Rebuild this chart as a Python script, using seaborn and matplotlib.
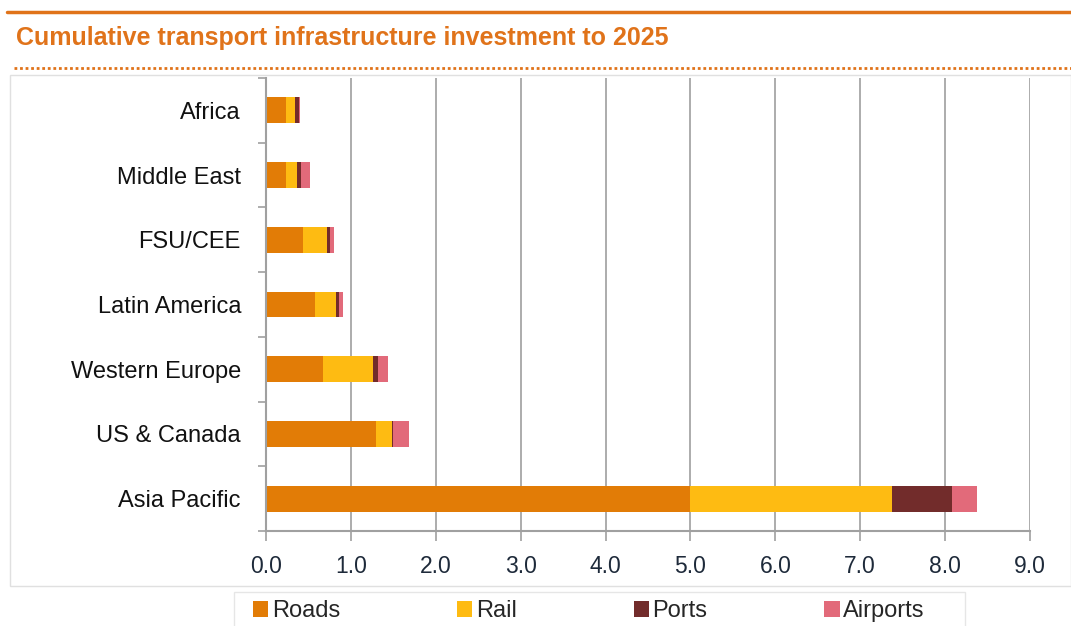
import numpy as np
import pandas as pd
import matplotlib
matplotlib.use("Agg")
import matplotlib.pyplot as plt
import seaborn as sns
from matplotlib.patches import Patch
from matplotlib.lines import Line2D

regions = ["Africa", "Middle East", "FSU/CEE", "Latin America", "Western Europe", "US & Canada", "Asia Pacific"]
roads = [0.23, 0.23, 0.43, 0.58, 0.67, 1.30, 5.00]
rail = [0.11, 0.14, 0.29, 0.24, 0.59, 0.18, 2.38]
ports = [0.05, 0.04, 0.03, 0.04, 0.06, 0.02, 0.70]
airports = [0.01, 0.11, 0.05, 0.05, 0.12, 0.19, 0.29]
series_names = ["Roads", "Rail", "Ports", "Airports"]
xticks = [0, 1, 2, 3, 4, 5, 6, 7, 8, 9]

colors = {"Roads": "#E27C06", "Rail": "#FEBB12", "Ports": "#722C2B", "Airports": "#E26A7A"}
orange = "#E0731A"

sns.set_theme(style="white")
plt.rcParams['font.family'] = ['Liberation Sans', 'DejaVu Sans']

df = pd.DataFrame({"Region": regions, "Roads": roads, "Rail": rail, "Ports": ports, "Airports": airports})
cum = df[series_names].cumsum(axis=1)
cum["Region"] = df["Region"]

fig = plt.figure(figsize=(10.71, 6.26), dpi=100)
ax = fig.add_axes([266/1071, (626-531)/626, (1030-266)/1071, (531-78)/626])

# draw longest (cumulative) first so shorter segments overlay
for name in reversed(series_names):
    sns.barplot(data=cum, x=name, y="Region", order=regions, orient="h",
                color=colors[name], width=0.40, ax=ax, saturation=1, edgecolor="none", linewidth=0)

ax.set_xlim(0, 9)
ax.set_ylim(6.5, -0.5)
ax.set_xticks(xticks)
ax.set_xticklabels([f"{v:.1f}" for v in xticks], fontsize=16.5, color="#1e2a3a")
ax.set_xlabel("")
ax.set_ylabel("")
ax.tick_params(axis="x", length=7, width=1.2, color="#a0a0a0", pad=10, bottom=True)
ax.tick_params(axis="y", which="major", length=0, pad=18, labelsize=17, labelcolor="#111111")
ax.set_yticks(np.arange(-0.5, 7, 1), minor=True)
ax.tick_params(axis="y", which="minor", length=6, width=1.2, color="#a0a0a0", left=True)
ax.grid(axis="x", color="#a6a6a6", linewidth=1.3)
ax.set_axisbelow(True)
for s in ["top", "right"]:
    ax.spines[s].set_visible(False)
for s in ["left", "bottom"]:
    ax.spines[s].set_color("#a0a0a0")
    ax.spines[s].set_linewidth(1.5)

# title and decorative lines
fig.add_artist(Line2D([7/1071, 1.0], [1-12/626, 1-12/626], color=orange, linewidth=2.5, transform=fig.transFigure))
fig.text(16/1071, 1-38/626, "Cumulative transport infrastructure investment to 2025",
         fontsize=18, fontweight="bold", color=orange, va="center", ha="left")
fig.add_artist(Line2D([14/1071, 1.0], [1-68/626, 1-68/626], color=orange, linewidth=2,
                      linestyle=(0, (1, 1)), transform=fig.transFigure))

# outer light frame
fig.add_artist(plt.Rectangle((10/1071, (626-586)/626), (1071-10)/1071, (586-75)/626, fill=False,
                             edgecolor="#e0e0e0", linewidth=1, transform=fig.transFigure))
# legend frame
fig.add_artist(plt.Rectangle((234/1071, -0.01), (965-234)/1071, (626-592)/626 + 0.01, fill=False,
                             edgecolor="#e6e6e6", linewidth=1, transform=fig.transFigure))

handles = [Patch(facecolor=colors[n], edgecolor="none", label=n) for n in series_names]
leg = fig.legend(handles=handles, loc="center left", bbox_to_anchor=(234/1071, 1-611/626), ncol=4,
                 frameon=False, fontsize=17, handlelength=0.65, handleheight=0.65, handletextpad=0.15,
                 columnspacing=4.95, borderpad=0.3)

fig.savefig("out.png", dpi=100)
